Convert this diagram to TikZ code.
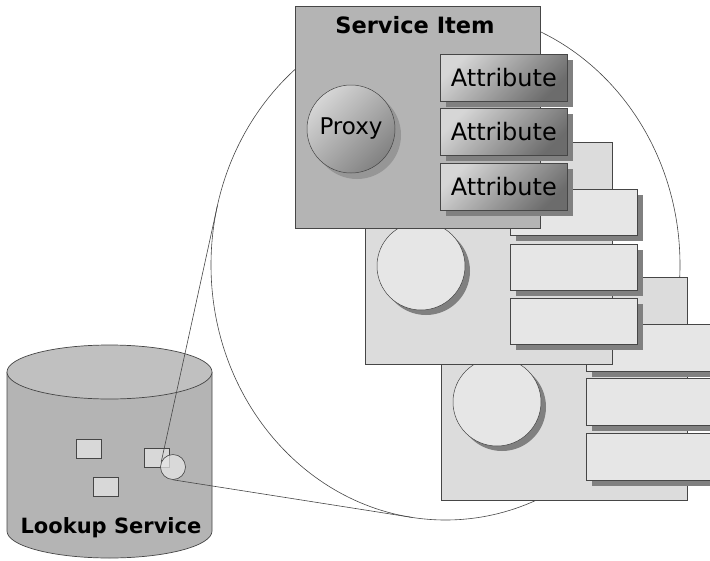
\documentclass[tikz,border=0pt]{standalone}
\usepackage{fontspec}
\setmainfont{DejaVu Sans}
\usetikzlibrary{shadows}

\definecolor{frontcard}{RGB}{180,180,180}
\definecolor{backcard}{RGB}{220,220,220}
\definecolor{slotfill}{RGB}{230,230,230}
\definecolor{shadowgray}{RGB}{128,128,128}
\definecolor{proxyshadow}{RGB}{150,150,150}
\definecolor{edgegray}{RGB}{70,70,70}
\definecolor{lightshade}{RGB}{214,214,214}
\definecolor{darkshade}{RGB}{108,108,108}
\definecolor{cylbody}{RGB}{180,180,180}
\definecolor{cyltop}{RGB}{192,192,192}
\definecolor{chip}{RGB}{216,216,216}

\tikzset{
  card/.style={draw=edgegray, line width=0.7pt, anchor=north west, inner sep=0pt},
  frontcardbox/.style={card, fill=frontcard},
  backcardbox/.style={card, fill=backcard},
  attrbox/.style={draw=edgegray, line width=0.7pt, anchor=north west, inner sep=0pt,
    minimum width=127pt, minimum height=47pt,
    top color=lightshade, bottom color=darkshade, shading angle=45,
    drop shadow={shadow xshift=6pt, shadow yshift=-6pt, fill=shadowgray, opacity=1},
    font=\fontsize{24}{24}\selectfont},
  emptyslot/.style={draw=edgegray, line width=0.7pt, anchor=north west, inner sep=0pt,
    minimum width=127pt, minimum height=47pt, fill=slotfill,
    drop shadow={shadow xshift=6pt, shadow yshift=-6pt, fill=shadowgray, opacity=1}},
  proxyball/.style={circle, draw=edgegray, line width=0.5pt, minimum size=88pt, inner sep=0pt,
    top color=lightshade, bottom color=darkshade!85, shading angle=45,
    drop shadow={shadow xshift=6pt, shadow yshift=-6pt, fill=proxyshadow, opacity=1},
    font=\fontsize{23}{23}\selectfont},
  emptyball/.style={circle, draw=edgegray, line width=0.5pt, minimum size=88pt, inner sep=0pt,
    fill=slotfill,
    drop shadow={shadow xshift=5pt, shadow yshift=-5pt, fill=shadowgray, opacity=1}},
  titletext/.style={font=\bfseries\fontsize{21}{21}\selectfont},
  chipbox/.style={draw=edgegray, line width=0.6pt, fill=chip, anchor=north west, inner sep=0pt,
    minimum width=25pt, minimum height=19pt},
  thinline/.style={draw=edgegray, line width=0.6pt},
}

\begin{document}
\begin{tikzpicture}[x=1pt, y=-1pt]
\useasboundingbox (0,0) rectangle (710,560);

% outline of the zoomed-in region
\coordinate (lenscentre) at (445.5,265);
\draw[thinline] (lenscentre) ellipse [x radius=234.5pt, y radius=255pt];
\coordinate (t1) at (217.4,205.6);
\coordinate (t2) at (412.1,517.4);

% third (rearmost) service item
\node[backcardbox, minimum width=246pt, minimum height=223pt] (card3) at (441,277) {};
\node[emptyball] (ball3) at (497,402) {};
\node[emptyslot] (slot31) at (586,324) {};
\node[emptyslot] (slot32) at (586,378) {};
\node[emptyslot] (slot33) at (586,433) {};

% second service item
\node[backcardbox, minimum width=247pt, minimum height=222pt] (card2) at (365,142) {};
\node[emptyball] (ball2) at (421,266) {};
\node[emptyslot, minimum height=46pt] (slot21) at (510,189) {};
\node[emptyslot, minimum height=46pt] (slot22) at (510,244) {};
\node[emptyslot, minimum height=46pt] (slot23) at (510,298) {};

% front service item
\node[frontcardbox, minimum width=245pt, minimum height=222pt] (card1) at (295,6) {};
\node[titletext, font=\bfseries\fontsize{22.5}{22.5}\selectfont] (title) at (415,25) {Service Item};
\node[proxyball] (proxy) at (351,129) {Proxy};
\node[attrbox] (attr1) at (440,54) {Attribute};
\node[attrbox] (attr2) at (440,108) {Attribute};
\node[attrbox] (attr3) at (440,163) {Attribute};

% lookup service cylinder
\path[fill=cylbody, draw=edgegray, line width=0.7pt]
  (7,372) -- (7,531) arc[start angle=180, end angle=360, x radius=102.5pt, y radius=27pt] -- (212,372);
\draw[fill=cyltop, draw=edgegray, line width=0.7pt] (109.5,372) ellipse [x radius=102.5pt, y radius=27pt];
\node[chipbox] (chip1) at (76,439) {};
\node[chipbox] (chip2) at (93,477) {};
\node[chipbox] (chip3) at (144,448) {};
\node[circle, draw=edgegray, line width=0.6pt, fill=slotfill, fill opacity=0.75,
      minimum size=25pt, inner sep=0pt] (lens) at (173,467) {};
\node[titletext] (lookup) at (111,528) {Lookup Service};

% connectors from the selected entry to the enlarged view
\draw[thinline] (lens.157) -- (t1);
\draw[thinline] (lens.south) -- (t2);
\end{tikzpicture}
\end{document}
